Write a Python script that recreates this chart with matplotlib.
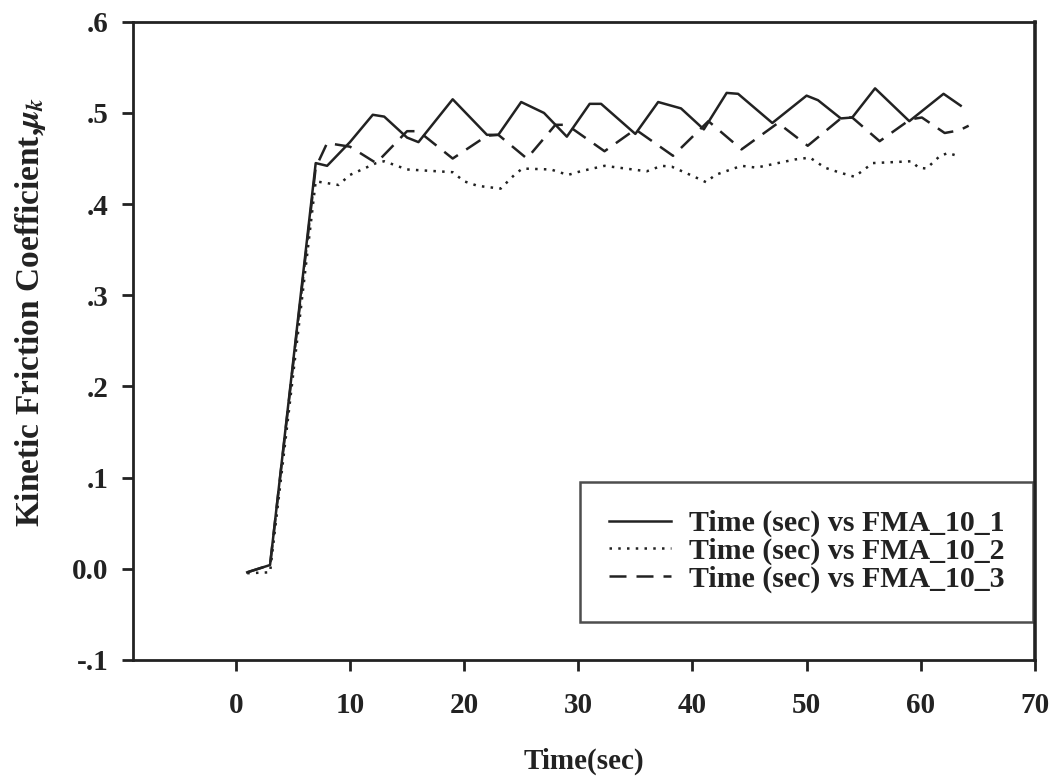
import matplotlib
matplotlib.use("Agg")
import matplotlib.pyplot as plt
from matplotlib.ticker import FixedLocator

plt.rcParams['font.family'] = ['Liberation Serif', 'DejaVu Serif']
plt.rcParams['font.weight'] = 'bold'
plt.rcParams['mathtext.fontset'] = 'stix'

# vertices (time in sec, friction coefficient)
t1 = [1, 3, 7, 8, 10, 12, 13, 15, 16, 19, 22, 23, 25, 27, 29, 31, 32, 35, 37, 39,
      41, 43, 44, 47, 50, 51, 53, 54, 56, 59, 62, 63.5]
mu1 = [-0.004, 0.004, 0.445, 0.442, 0.468, 0.498, 0.496, 0.473, 0.468, 0.515,
       0.476, 0.476, 0.512, 0.500, 0.474, 0.510, 0.510, 0.477, 0.512, 0.505,
       0.482, 0.522, 0.521, 0.489, 0.519, 0.514, 0.494, 0.495, 0.527, 0.491,
       0.521, 0.508]

t2 = [1, 3, 7, 9, 10, 12.3, 13, 15, 19, 20, 21.2, 23.2, 24.4, 25.1, 27.6, 29.1,
      30.2, 32.3, 36, 37.3, 38.2, 40, 41.2, 42, 44.3, 45.6, 49, 50.3, 51.6, 52.8,
      54.2, 55.8, 59.2, 59.8, 60.5, 61.7, 62.4, 63.2]
mu2 = [-0.005, -0.004, 0.425, 0.421, 0.432, 0.445, 0.447, 0.438, 0.435, 0.425,
       0.420, 0.417, 0.432, 0.439, 0.438, 0.432, 0.436, 0.442, 0.436, 0.442,
       0.441, 0.431, 0.424, 0.432, 0.442, 0.440, 0.449, 0.451, 0.440, 0.435,
       0.430, 0.445, 0.447, 0.440, 0.439, 0.453, 0.456, 0.453]

t3 = [1, 3, 7, 8, 10, 12.3, 15, 16, 19, 22, 23, 25.5, 28, 29, 32.3, 35, 38.3,
      41.4, 44.3, 47.5, 50.1, 53.1, 54, 56.4, 59.1, 60.1, 62.1, 63.4, 64.2]
mu3 = [-0.004, 0.004, 0.440, 0.467, 0.463, 0.445, 0.480, 0.480, 0.450, 0.475,
       0.476, 0.450, 0.487, 0.487, 0.458, 0.482, 0.453, 0.491, 0.460, 0.489,
       0.464, 0.495, 0.495, 0.469, 0.493, 0.495, 0.478, 0.481, 0.486]

labels = ['Time (sec) vs FMA_10_1', 'Time (sec) vs FMA_10_2', 'Time (sec) vs FMA_10_3']
xticks = [0, 10, 20, 30, 40, 50, 60, 70]
yticks = [-0.1, 0.0, 0.1, 0.2, 0.3, 0.4, 0.5, 0.6]
ytick_labels = ['-.1', '0.0', '.1', '.2', '.3', '.4', '.5', '.6']

fig = plt.figure(figsize=(10.56, 7.79), dpi=100)
ax = fig.add_axes([0.126, 0.153, 0.854, 0.819])

ink = '#222222'
ax.plot(t1, mu1, color=ink, lw=1.8, ls='-', label=labels[0])
ax.plot(t2, mu2, color=ink, lw=1.8, ls=(0, (1, 2.5)), label=labels[1])
ax.plot(t3, mu3, color=ink, lw=1.8, ls=(0, (6.8, 4)), label=labels[2])

ax.set_xlim(-9, 70)
ax.set_ylim(-0.1, 0.6)
ax.xaxis.set_major_locator(FixedLocator(xticks))
ax.set_yticks(yticks)
ax.set_yticklabels(ytick_labels)
ax.tick_params(direction='out', length=8, width=2, labelsize=21, color=ink,
               labelcolor=ink)
ax.tick_params(axis='y', pad=9.5)
ax.tick_params(axis='x', pad=15)
for side in ['left', 'bottom', 'top']:
    ax.spines[side].set_linewidth(2)
    ax.spines[side].set_color(ink)
ax.spines['right'].set_linewidth(2.6)
ax.spines['right'].set_color(ink)

ax.set_xlabel('Time(sec)', fontsize=21, fontweight='bold', color=ink)
ax.xaxis.set_label_coords(0.5, -0.137)
ax.set_ylabel(r'Kinetic Friction Coefficient,$\mu_k$', fontsize=24,
              fontweight='bold', color=ink)
ax.yaxis.set_label_coords(-0.094, 0.545)

leg = ax.legend(loc='lower right', bbox_to_anchor=(0.998, 0.06), fontsize=21.5,
                frameon=True, fancybox=False, edgecolor=ink, borderaxespad=0,
                handlelength=2.1, handletextpad=0.6, borderpad=0.95,
                labelspacing=0.02)
leg.get_frame().set_linewidth(1.8)
for text in leg.get_texts():
    text.set_color(ink)
for line in leg.get_lines():
    line.set_linewidth(1.8)

fig.savefig('out.png', dpi=100)
